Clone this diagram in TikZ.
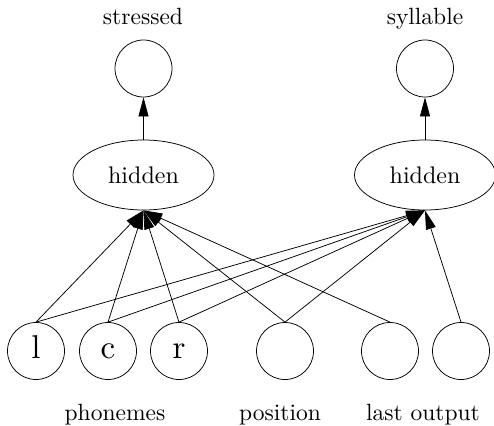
\documentclass[tikz,border=0pt]{standalone}
\usepackage{fontspec}
\newfontfamily\labelfont{lmroman10-regular}[Extension=.otf]
\usetikzlibrary{arrows.meta,shapes.geometric}

\tikzset{
  unit/.style={draw, circle, minimum size=57pt, inner sep=0pt, line width=0.75pt,
    font=\labelfont\fontsize{33}{36}\selectfont, text height=14pt, text depth=0pt},
  hiddenunit/.style={draw, ellipse, minimum width=141pt, minimum height=70pt,
    inner sep=0pt, line width=0.75pt, font=\labelfont\fontsize{24}{28}\selectfont},
  caption/.style={anchor=base, inner sep=0pt, font=\labelfont\fontsize{23.5}{28}\selectfont},
  link/.style={line width=0.75pt, -{Triangle[length=19pt,width=10pt]}}
}

\begin{document}
\begin{tikzpicture}[x=1pt, y=-1pt]
  \useasboundingbox (0,0) rectangle (494,425);

  % output units
  \node[unit] (stressed) at (143.5,68.5) {};
  \node[unit] (syllable) at (425,68.5) {};
  \node[caption] (stressedlbl) at (143,25) {stressed};
  \node[caption] (syllablelbl) at (425,25) {syllable};

  % hidden layers
  \node[hiddenunit] (hl) at (143.5,175) {hidden};
  \node[hiddenunit] (hr) at (425,175) {hidden};

  % input units
  \node[unit] (l)   at (36,351)  {l};
  \node[unit] (c)   at (108,351) {c};
  \node[unit] (r)   at (179,351) {r};
  \node[unit] (pos) at (285,351) {};
  \node[unit] (lo1) at (390,351) {};
  \node[unit] (lo2) at (461,351) {};

  \node[caption] (phon)   at (115,420) {phonemes};
  \node[caption] (posl)   at (280,420) {position};
  \node[caption] (lastl)  at (423,420) {last output};

  % hidden to output
  \draw[link] (hl.north) -- (stressed.south);
  \draw[link] (hr.north) -- (syllable.south);

  % inputs to left hidden layer
  \foreach \s in {l,c,r,pos,lo1}
    \draw[link] (\s.north) -- (hl.south);
  % inputs to right hidden layer
  \foreach \s in {l,c,r,pos,lo2}
    \draw[link] (\s.north) -- (hr.south);
\end{tikzpicture}
\end{document}
